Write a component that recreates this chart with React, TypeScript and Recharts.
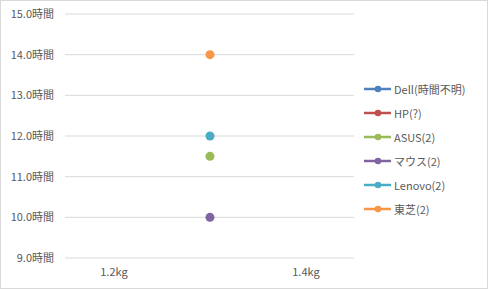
import React from 'react';
import {
  ScatterChart,
  Scatter,
  XAxis,
  YAxis,
  ZAxis,
  CartesianGrid,
} from 'recharts';

interface Point {
  x: number;
  y: number;
}

// メーカー名（凡例の表示順）
const makers = ['Dell(時間不明)', 'HP(?)', 'ASUS(2)', 'マウス(2)', 'Lenovo(2)', '東芝(2)'];
const colors = ['#4F81BD', '#C0504D', '#9BBB59', '#8064A2', '#4BACC6', '#F79646'];

// 各メーカーの重量(kg)とバッテリー時間
const dell: Point[] = [];
const hp: Point[] = [];
const asus: Point[] = [{ x: 1.3, y: 11.5 }];
const mouse: Point[] = [{ x: 1.3, y: 10 }];
const lenovo: Point[] = [{ x: 1.3, y: 12 }];
const toshiba: Point[] = [{ x: 1.3, y: 14 }];

const seriesData = [dell, hp, asus, mouse, lenovo, toshiba];

const xTicks = [1.2, 1.4];
const yTicks = [9, 10, 11, 12, 13, 14, 15];

const font = '"Noto Sans CJK JP", "Noto Sans", sans-serif';

const LegendBox = () => (
  <div
    style={{
      position: 'absolute',
      left: 363,
      top: 76,
      fontFamily: font,
      fontSize: 11,
      color: '#595959',
    }}
  >
    {makers.map((name, i) => (
      <div key={name} style={{ display: 'flex', alignItems: 'center', height: 24 }}>
        <svg width={28} height={10} style={{ marginRight: 2 }}>
          <line x1={0} y1={5} x2={27} y2={5} stroke={colors[i]} strokeWidth={2.5} />
          <circle cx={14} cy={5} r={3.3} fill={colors[i]} />
        </svg>
        <span>{name}</span>
      </div>
    ))}
  </div>
);

const App: React.FC = () => {
  return (
    <div
      style={{
        position: 'absolute',
        left: 0,
        top: 0,
        width: 488,
        height: 289,
        boxSizing: 'border-box',
        border: '1px solid #d9d9d9',
        background: '#fff',
      }}
    >
      <ScatterChart
        width={486}
        height={287}
        margin={{ top: 13, right: 133, bottom: 0, left: 0 }}
        style={{ fontFamily: font }}
      >
        <CartesianGrid vertical={false} stroke="#d9d9d9" />
        <XAxis
          type="number"
          dataKey="x"
          domain={[1.149, 1.45]}
          ticks={xTicks}
          interval={0}
          height={30}
          tickFormatter={(v: number) => `${v.toFixed(1)}kg`}
          axisLine={false}
          tickLine={false}
          tickSize={0}
          tickMargin={10}
          tick={{ fill: '#595959', fontSize: 11 }}
        />
        <YAxis
          type="number"
          dataKey="y"
          domain={[9, 15]}
          ticks={yTicks}
          interval={0}
          tickFormatter={(v: number) => `${v.toFixed(1)}時間`}
          axisLine={false}
          tickLine={false}
          tickSize={0}
          tickMargin={11}
          width={64}
          tick={{ fill: '#595959', fontSize: 11 }}
        />
        <ZAxis range={[30, 30]} />
        {seriesData.map((d, i) => (
          <Scatter
            key={makers[i]}
            name={makers[i]}
            data={d}
            fill={colors[i]}
            isAnimationActive={false}
          />
        ))}
      </ScatterChart>
      <LegendBox />
    </div>
  );
};

export default App;
